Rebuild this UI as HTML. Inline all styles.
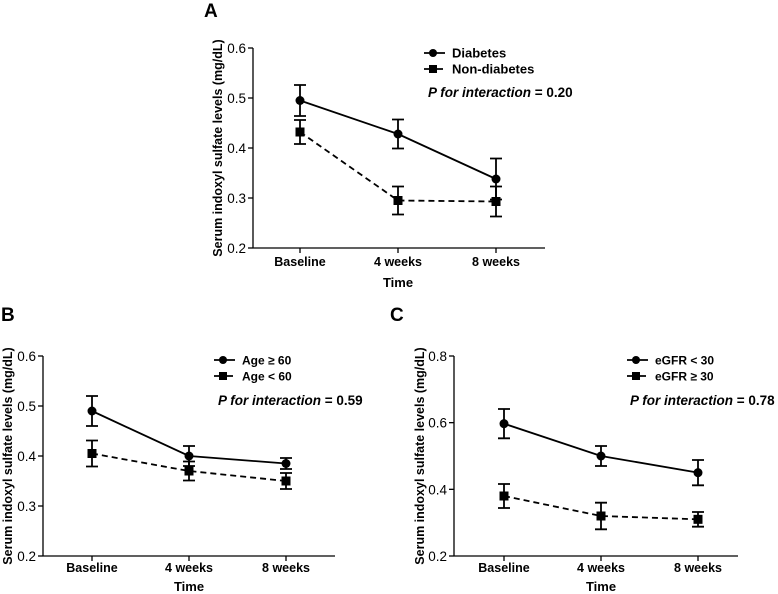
<!DOCTYPE html>
<html><head><meta charset="utf-8"><style>
body{margin:0;background:#fff;}
svg{display:block;font-family:"Liberation Sans",Arial,sans-serif;}
</style></head><body>
<svg id="fig" width="778" height="594" viewBox="0 0 778 594"></svg>
<script>
const categories=["Baseline","4 weeks","8 weeks"];
const aMean1=[0.495,0.428,0.338], aErr1=[0.031,0.029,0.041];
const aMean2=[0.432,0.295,0.293], aErr2=[0.024,0.028,0.030];
const bMean1=[0.49,0.40,0.385], bErr1=[0.03,0.02,0.011];
const bMean2=[0.405,0.37,0.35], bErr2=[0.026,0.019,0.016];
const cMean1=[0.597,0.50,0.45], cErr1=[0.044,0.03,0.038];
const cMean2=[0.38,0.32,0.31], cErr2=[0.036,0.04,0.022];
const aTicks=[0.2,0.3,0.4,0.5,0.6], bTicks=[0.2,0.3,0.4,0.5,0.6], cTicks=[0.2,0.4,0.6,0.8];
const legendA=["Diabetes","Non-diabetes"], legendB=["Age \u2265 60","Age < 60"], legendC=["eGFR < 30","eGFR \u2265 30"];
const pA="0.20", pB="0.59", pC="0.78";

const NS="http://www.w3.org/2000/svg";
const svg=document.getElementById('fig');
function mk(tag,attrs,parent,text){const e=document.createElementNS(NS,tag);for(const k in attrs)e.setAttribute(k,attrs[k]);if(text!==undefined)e.textContent=text;(parent||svg).appendChild(e);return e;}

function panel(cfg){
  const g=mk('g',{});
  
  
  const ymin=cfg.ticks[0], ymax=cfg.ticks[cfg.ticks.length-1];
  const y=v=>cfg.y0+(v-ymin)/(ymax-ymin)*(cfg.y1-cfg.y0);
  const x=i=>cfg.xs[0]+i*(cfg.xs[1]-cfg.xs[0])/(categories.length-1);
  const L=mk('text',{x:cfg.lx,y:cfg.ly,'font-size':19,'font-weight':'bold'},g,cfg.id);
  
  
  const ya=mk('line',{x1:cfg.ax,y1:y(ymax),x2:cfg.ax,y2:y(ymin)+0.5,stroke:'#000','stroke-width':1.3},g);
  
  
  const xa=mk('line',{x1:cfg.ax,y1:y(ymin),x2:cfg.axEnd,y2:y(ymin),stroke:'#000','stroke-width':1.3},g);
  
  
  cfg.ticks.forEach(t=>{
    mk('line',{x1:cfg.ax-5,y1:y(t),x2:cfg.ax,y2:y(t),stroke:'#000','stroke-width':1.3},g);
    const tl=mk('text',{x:cfg.ax-7,y:y(t)+5,'font-size':13.5,'text-anchor':'end'},g,t.toFixed(1));
    
    
  });
  categories.forEach((c,i)=>{
    mk('line',{x1:x(i),y1:y(ymin),x2:x(i),y2:y(ymin)+5,stroke:'#000','stroke-width':1.3},g);
    const tl=mk('text',{x:x(i),y:y(ymin)+cfg.tickOff,'font-size':12.5,'font-weight':'bold','text-anchor':'middle'},g,c);
    
    
  });
  const xt=mk('text',{x:x(1),y:y(ymin)+cfg.timeOff,'font-size':13,'font-weight':'bold','text-anchor':'middle'},g,'Time');
  
  
  const yt=mk('text',{x:0,y:0,'font-size':12.5,'font-weight':'bold','text-anchor':'middle',transform:`translate(${cfg.ytx},${(y(ymin)+y(ymax))/2}) rotate(-90)`},g,'Serum indoxyl sulfate levels (mg/dL)');
  
  
  const series=[[cfg.m1,cfg.e1,'circle',''],[cfg.m2,cfg.e2,'square','6,4']];
  series.forEach((s,si)=>{
    const pts=s[0].map((v,i)=>x(i)+','+y(v)).join(' ');
    const pl=mk('polyline',{points:pts,fill:'none',stroke:'#000','stroke-width':1.8,'stroke-dasharray':s[3]},g);
    
    
    s[0].forEach((v,i)=>{
      const e=s[1][i], cx=x(i);
      const eb=mk('path',{d:`M${cx},${y(v+e)}V${y(v-e)}M${cx-6},${y(v+e)}H${cx+6}M${cx-6},${y(v-e)}H${cx+6}`,stroke:'#000','stroke-width':1.8,fill:'none'},g);
      
      
      let mkr;
      if(s[2]==='circle') mkr=mk('circle',{cx:cx,cy:y(v),r:4.5,fill:'#000'},g);
      else mkr=mk('rect',{x:cx-4.5,y:y(v)-4.5,width:9,height:9,fill:'#000'},g);
      
      
    });
  });
  cfg.legend.forEach((lab,i)=>{
    const ly=cfg.legY+i*16;
    const ll=mk('line',{x1:cfg.legX,y1:ly,x2:cfg.legX+21,y2:ly,stroke:'#000','stroke-width':1.8,'stroke-dasharray':i?'8,3':''},g);
    
    
    if(i===0) mk('circle',{cx:cfg.legX+9,cy:ly,r:4,fill:'#000'},g);
    else mk('rect',{x:cfg.legX+5,y:ly-4,width:8,height:8,fill:'#000'},g);
    const lt=mk('text',{x:cfg.legX+28,y:ly+4.5,'font-size':cfg.legFs,'font-weight':'bold'},g,lab);
    
    
  });
  const pt=mk('text',{x:cfg.pX,y:cfg.pY,'font-size':13.5,'font-weight':'bold'},g);
  
  
  mk('tspan',{'font-style':'italic'},pt,'P for interaction');
  mk('tspan',{},pt,' = '+cfg.p);
}

panel({id:'A',lx:204,ly:17,ax:253,axEnd:545,y0:248,y1:48,xs:[300,496],ticks:aTicks,ytx:222,tickOff:18,timeOff:39,
  m1:aMean1,e1:aErr1,m2:aMean2,e2:aErr2,legend:legendA,legX:424,legY:53,legFs:13,pX:428,pY:97,p:pA});
panel({id:'B',lx:1,ly:321,ax:43,axEnd:335,y0:556,y1:356,xs:[92,286],ticks:bTicks,ytx:12,tickOff:16,timeOff:35,
  m1:bMean1,e1:bErr1,m2:bMean2,e2:bErr2,legend:legendB,legX:214,legY:360,legFs:12,pX:218,pY:405,p:pB});
panel({id:'C',lx:390,ly:321,ax:454,axEnd:738,y0:556,y1:356,xs:[504,698],ticks:cTicks,ytx:424,tickOff:16,timeOff:35,
  m1:cMean1,e1:cErr1,m2:cMean2,e2:cErr2,legend:legendC,legX:627,legY:360,legFs:12,pX:630,pY:405,p:pC});
</script>
</body></html>
